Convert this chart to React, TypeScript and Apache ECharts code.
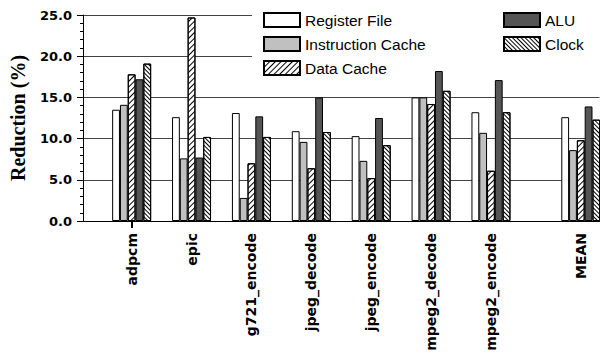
import React, { useEffect, useRef } from "react";
import * as echarts from "echarts";

const benchmarks = ["adpcm", "epic", "g721_encode", "jpeg_decode", "jpeg_encode", "mpeg2_decode", "mpeg2_encode", "MEAN"];
const registerFile = [13.5, 12.6, 13.1, 10.9, 10.3, 15.0, 13.2, 12.6];
const instructionCache = [14.1, 7.6, 2.8, 9.6, 7.3, 15.0, 10.7, 8.6];
const dataCache = [17.8, 24.7, 7.0, 6.4, 5.2, 14.2, 6.1, 9.8];
const alu = [17.2, 7.7, 12.7, 15.0, 12.5, 18.2, 17.1, 13.9];
const clock = [19.1, 10.2, 10.2, 10.8, 9.2, 15.8, 13.2, 12.3];
const yTicks = [0, 5, 10, 15, 20, 25];

// slot layout of the category axis (empty slots give the spacing)
const SLOT_COUNT = 69;
const benchmarkSlots = [6, 14, 22, 30, 38, 46, 54, 66];

const categories: string[] = Array.from({ length: SLOT_COUNT }, () => "");
benchmarkSlots.forEach((s, i) => (categories[s] = benchmarks[i]));

function spread(values: number[]) {
  const arr: (number | string)[] = Array.from({ length: SLOT_COUNT }, () => "-");
  benchmarkSlots.forEach((s, i) => (arr[s] = values[i]));
  return arr;
}

export default function App() {
  const ref = useRef<HTMLDivElement>(null);
  useEffect(() => {
    if (!ref.current) return;
    const chart = echarts.init(ref.current, null, { renderer: "svg" });
    const base = { type: "bar", barWidth: 7.8, barGap: "0%", z: 2 };
    const border = { borderColor: "#000", borderWidth: 1 };
    const legendCommon = {
      top: 12,
      orient: "vertical",
      padding: 0,
      icon: "rect",
      itemWidth: 36,
      itemHeight: 14,
      itemGap: 8,
      textStyle: { fontFamily: "Liberation Sans", fontSize: 15.5, color: "#000" },
    };
    chart.setOption({
      animation: false,
      backgroundColor: "#fff",
      grid: { left: 82, top: 15, width: 517.5, height: 206, containLabel: false },
      legend: [
        { ...legendCommon, left: 263, data: ["Register File", "Instruction Cache", "Data Cache"] },
        { ...legendCommon, left: 503, data: ["ALU", "Clock"] },
      ],
      graphic: [
        {
          type: "rect",
          z: 1,
          silent: true,
          shape: { x: 252, y: 0, width: 350, height: 64 },
          style: { fill: "#fff" },
        },
      ],
      xAxis: {
        type: "category",
        data: categories,
        boundaryGap: true,
        axisLine: { lineStyle: { color: "#000", width: 1 } },
        axisTick: {
          show: true,
          alignWithLabel: true,
          length: 7,
          interval: (index: number) => index === benchmarkSlots[0],
          lineStyle: { color: "#000", width: 2 },
        },
        axisLabel: {
          interval: 0,
          rotate: 90,
          margin: 12,
          color: "#000",
          fontFamily: "DejaVu Sans",
          fontWeight: "bold",
          fontSize: 14,
        },
        splitLine: { show: false },
      },
      yAxis: {
        type: "value",
        min: yTicks[0],
        max: yTicks[yTicks.length - 1],
        interval: 5,
        name: "Reduction (%)",
        nameLocation: "middle",
        nameRotate: 90,
        nameGap: 55,
        nameTextStyle: { fontFamily: "Liberation Serif", fontWeight: "bold", fontSize: 20, color: "#000" },
        axisLine: { show: true, lineStyle: { color: "#000", width: 1 } },
        axisTick: { show: true, length: 6, lineStyle: { color: "#000" } },
        minorTick: { show: true, splitNumber: 5, length: 3, lineStyle: { color: "#000" } },
        axisLabel: {
          margin: 11,
          color: "#000",
          fontFamily: "DejaVu Sans",
          fontWeight: "bold",
          fontSize: 13,
          formatter: (v: number) => v.toFixed(1),
        },
        splitLine: { show: true, lineStyle: { color: "#444", width: 1 } },
      },
      series: [
        { ...base, name: "Register File", data: spread(registerFile), itemStyle: { color: "#fff", ...border } },
        { ...base, name: "Instruction Cache", data: spread(instructionCache), itemStyle: { color: "#c0c0c0", ...border } },
        {
          ...base,
          name: "Data Cache",
          data: spread(dataCache),
          itemStyle: {
            color: "#fff",
            ...border,
            decal: { symbol: "rect", symbolSize: 1, color: "#000", dashArrayX: [1, 0], dashArrayY: [1, 3], rotation: -Math.PI / 4 },
          },
        },
        { ...base, name: "ALU", data: spread(alu), itemStyle: { color: "#555", ...border } },
        {
          ...base,
          name: "Clock",
          data: spread(clock),
          itemStyle: {
            color: "#fff",
            ...border,
            decal: { symbol: "rect", symbolSize: 1, color: "#000", dashArrayX: [1, 0], dashArrayY: [1, 2], rotation: Math.PI / 4 },
          },
        },
      ],
    });
    return () => chart.dispose();
  }, []);
  return <div ref={ref} style={{ width: 602, height: 360, position: "absolute", left: 0, top: 0 }} />;
}
